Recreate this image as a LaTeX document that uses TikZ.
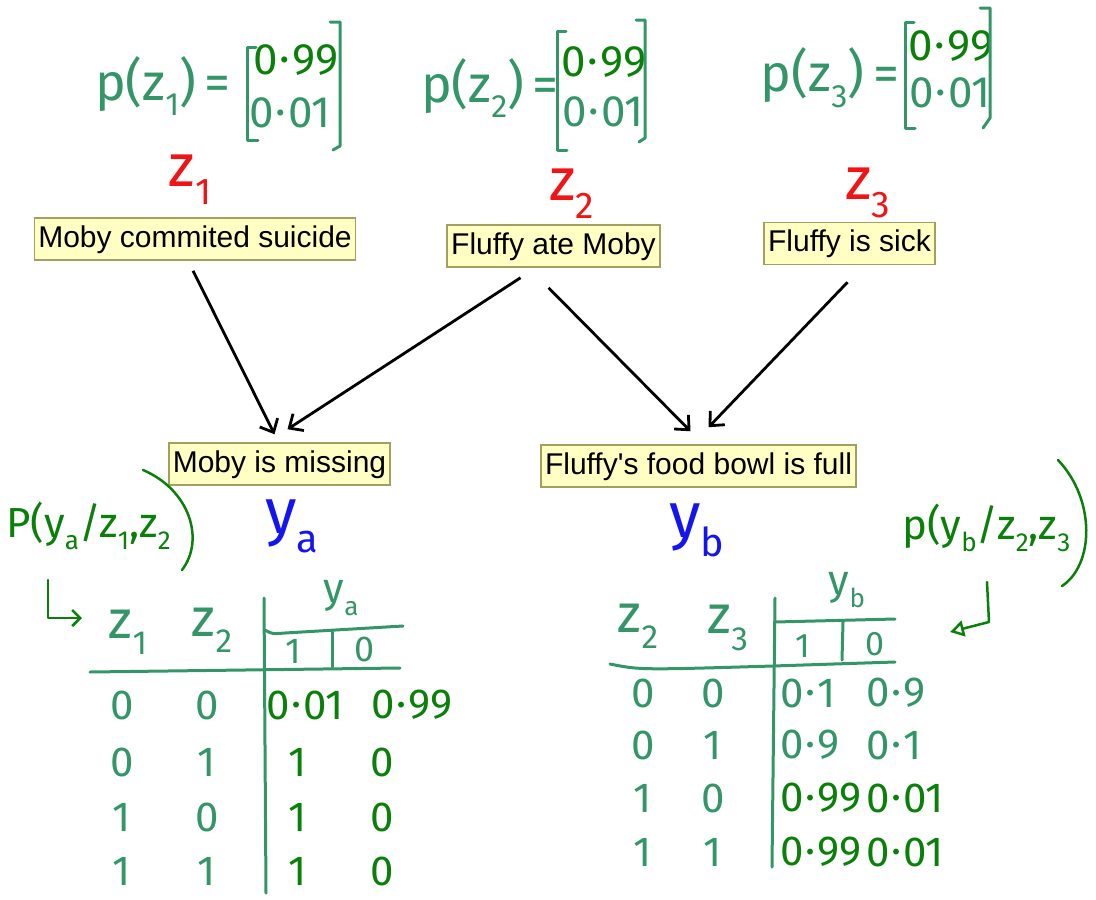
\documentclass[tikz,border=0pt]{standalone}
\usepackage{fontspec}
\newfontfamily\arial{Liberation Sans}
\newfontfamily\hwf{Fira Sans}
\usetikzlibrary{arrows.meta}
\definecolor{hwteal}{RGB}{52,150,104}
\definecolor{hwdark}{RGB}{10,128,10}
\definecolor{zred}{RGB}{240,20,20}
\definecolor{yblue}{RGB}{20,20,240}
\definecolor{boxfill}{RGB}{255,255,196}
\definecolor{boxline}{RGB}{160,160,96}
\newcommand\lo[1]{\raisebox{-0.3em}{\scalebox{0.62}{#1}}}
\newcommand\fs[1]{\fontsize{#1}{#1}\selectfont}
\newcommand\dt{\kern.04em\raisebox{.28em}{.}\kern.04em}
\tikzset{
  box/.style={draw=boxline, fill=boxfill, line width=1.5pt, font=\arial\fs{30}, inner xsep=4pt, inner ysep=0pt, minimum height=42pt, text height=22pt, text depth=6pt},
  arr/.style={line width=2.8pt, -{Straight Barb[length=11pt,width=20pt]}},
  hwt/.style={text=hwteal, inner sep=0pt},
  hwd/.style={text=hwdark, inner sep=0pt},
  tline/.style={draw=hwteal, line width=3pt, line cap=round, line join=round},
  dline/.style={draw=hwdark, line width=2.5pt, line cap=round, line join=round},
  zlab/.style={text=zred, inner sep=0pt, font=\hwf\fs{60}},
  ylab/.style={text=yblue, inner sep=0pt, font=\hwf\fs{64}},
}
\begin{document}
\begin{tikzpicture}[x=1pt,y=-1pt]
\useasboundingbox (0,0) rectangle (1096,900);
% priors
\node[hwt, font=\hwf\fs{52}] (pz1) at (163,86) {p(z\lo{1})\,=};
\node[hwd, font=\hwf\fs{44}] (pz1a) at (296,60) {0\dt99};
\node[hwt, font=\hwf\fs{44}] (pz1b) at (290,113) {0\dt01};
\draw[tline] (256,47) -- (247,47) -- (247,140) -- (258,140);
\draw[tline] (330,22) -- (340,22) -- (340,146) -- (333,150);

\node[hwt, font=\hwf\fs{52}] (pz2) at (490,88) {p(z\lo{2})\,=};
\node[hwd, font=\hwf\fs{44}] (pz2a) at (604,62) {0\dt99};
\node[hwt, font=\hwf\fs{44}] (pz2b) at (603,112) {0\dt01};
\draw[tline] (566,31) -- (557,31) -- (557,150) -- (567,150);
\draw[tline] (636,20) -- (645,20) -- (645,138) -- (639,142);

\node[hwt, font=\hwf\fs{52}] (pz3) at (830,78) {p(z\lo{3})\,=};
\node[hwd, font=\hwf\fs{44}] (pz3a) at (951,46) {0\dt99};
\node[hwt, font=\hwf\fs{44}] (pz3b) at (950,93) {0\dt01};
\draw[tline] (914,22) -- (905,22) -- (905,128) -- (915,128);
\draw[tline] (980,8) -- (990,8) -- (990,118) -- (983,128);

% red labels
\node[zlab] (z1) at (190,180) {z\lo{1}};
\node[zlab] (z2) at (572,194) {z\lo{2}};
\node[zlab] (z3) at (868,193) {z\lo{3}};

% boxes
\node[box] (b1) at (195,239) {Moby commited suicide};
\node[box] (b2) at (553.5,246) {Fluffy ate Moby};
\node[box] (b3) at (849.5,243.5) {Fluffy is sick};
\node[box] (b4) at (279.5,464) {Moby is missing};
\node[box] (b5) at (698.5,466) {Fluffy's food bowl is full};

% arrows
\draw[arr] ([xshift=-2pt,yshift=-10pt]b1.south) -- ([xshift=-5pt,yshift=8pt]b4.north);
\draw[arr] ([xshift=-33pt,yshift=-10pt]b2.south) -- ([xshift=8pt,yshift=13pt]b4.north);
\draw[arr] ([xshift=-5pt,yshift=-20pt]b2.south) -- ([xshift=-8pt,yshift=13pt]b5.north);
\draw[arr] ([xshift=-2pt,yshift=-17pt]b3.south) -- ([xshift=10pt,yshift=17pt]b5.north);

% blue labels
\node[ylab] (ya) at (292,526) {y\lo{a}};
\node[ylab] (yb) at (697,530) {y\lo{b}};

% left conditional
\node[hwd, font=\hwf\fs{42}, anchor=west] (cpa) at (6,526) {P(y\lo{a}/z\lo{1},z\lo{2}};
\draw[dline] (143,470) .. controls (190,490) and (205,540) .. (182,570);
\coordinate (la0) at (48,580);
\coordinate (la1) at (48,618);
\coordinate (la2) at (82,618);
\draw[dline, -{Straight Barb[length=8pt,width=16pt]}] (la0) -- (la1) -- (la2);

% right conditional
\node[hwd, font=\hwf\fs{42}, anchor=west] (cpb) at (902,528) {p(y\lo{b}/z\lo{2},z\lo{3}};
\draw[dline] (1058,460) .. controls (1096,500) and (1094,565) .. (1062,586);
\coordinate (ra0) at (987,582);
\coordinate (ra1) at (989,622);
\coordinate (ra2) at (950,632);
\draw[dline, -{Triangle[open,length=14pt,width=16pt]}] (ra0) -- (ra1) -- (ra2);

% left table
\draw[tline] (264,598) -- (266,893);
\draw[tline] (90,672) -- (400,668);
\draw[tline] (265,630) .. controls (272,634) .. (285,633) -- (403,626);
\draw[tline] (332,632) -- (332,667);
\node[hwt, font=\hwf\fs{54}] (lh1) at (128,632) {z\lo{1}};
\node[hwt, font=\hwf\fs{54}] (lh2) at (212,630) {z\lo{2}};
\node[hwt, font=\hwf\fs{42}] (lhy) at (341,598) {y\lo{a}};
\node[hwt, font=\hwf\fs{36}] (lc1) at (293,651) {1};
\node[hwt, font=\hwf\fs{36}] (lc0) at (365,649) {0};
\foreach \r/\yy/\a/\b/\c/\d in {1/705/0/0/0\dt01/0\dt99, 2/762/0/1/1/0, 3/817/1/0/1/0, 4/871/1/1/1/0}{
  \node[hwt, font=\hwf\fs{42}] (l\r a) at (122,\yy) {\a};
  \node[hwt, font=\hwf\fs{42}] (l\r b) at (207,\yy) {\b};
  \node[hwd, font=\hwf\fs{42}] (l\r c) at (\ifnum\r=1 305\else 298\fi,\yy) {\c};
  \node[hwd, font=\hwf\fs{42}] (l\r d) at (\ifnum\r=1 412\else 382\fi,\yy) {\d};
}

% right table
\draw[tline] (775,598) -- (772,867);
\draw[tline] (775,622) -- (895,619);
\draw[tline] (843,622) -- (842,660);
\draw[tline] (610,664) .. controls (640,670) .. (773,666) -- (895,662);
\node[hwt, font=\hwf\fs{54}] (rh2) at (638,626) {z\lo{2}};
\node[hwt, font=\hwf\fs{54}] (rh3) at (728,628) {z\lo{3}};
\node[hwt, font=\hwf\fs{42}] (rhy) at (847,590) {y\lo{b}};
\node[hwt, font=\hwf\fs{34}] (rc1) at (803,646) {1};
\node[hwt, font=\hwf\fs{34}] (rc0) at (875,644) {0};
\foreach \r/\yy/\a/\b/\c/\d in {1/693/0/0/0\dt1/0\dt9, 2/745/0/1/0\dt9/0\dt1, 3/798/1/0/0\dt99/0\dt01, 4/852/1/1/0\dt99/0\dt01}{
  \node[hwt, font=\hwf\fs{42}] (r\r a) at (643,\yy) {\a};
  \node[hwt, font=\hwf\fs{42}] (r\r b) at (713,\yy) {\b};
  \node[\ifnum\r>2 hwd\else hwt\fi, font=\hwf\fs{42}, anchor=west] (r\r c) at (780,\yy) {\c};
  \node[\ifnum\r>2 hwd\else hwt\fi, font=\hwf\fs{42}, anchor=west] (r\r d) at (866,\yy) {\d};
}
\end{tikzpicture}
\end{document}
